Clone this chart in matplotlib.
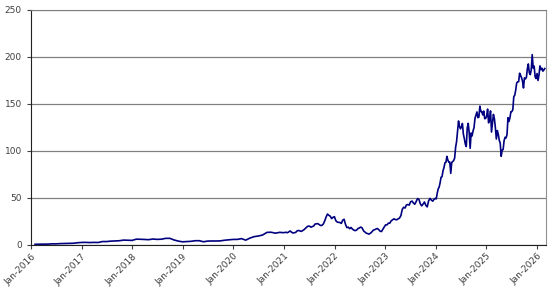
import numpy as np
import pandas as pd
import matplotlib
matplotlib.use('Agg')
import matplotlib.pyplot as plt
import matplotlib.dates as mdates

# ── data ──────────────────────────────────────────────────
# 2016-2020: month ends
monthly_dates = pd.date_range('2016-01-01', '2020-12-31', freq='ME')
monthly_vals = [
    0.73, 0.78, 0.89, 0.89, 1.17, 1.17, 1.43, 1.53, 1.71, 1.78, 2.30, 2.67,
    2.73, 2.53, 2.72, 2.60, 3.60, 3.61, 4.06, 4.23, 4.47, 5.17, 5.00, 4.84,
    6.14, 6.05, 5.79, 5.62, 6.30, 5.92, 6.12, 7.02, 7.03, 5.27, 4.09, 3.34,
    3.59, 3.85, 4.49, 4.52, 3.39, 4.11, 4.22, 4.19, 4.35, 5.03, 5.43, 5.88,
    5.91, 6.73, 5.10, 7.30, 8.87, 9.49, 10.61, 13.37, 13.52, 12.53, 13.39, 13.05,
]

# 2021-2023: roughly every 10 days
mid_dates = pd.date_range('2021-01-05', '2023-12-31', freq='10D')
mid_vals = [
    13.2, 13.5, 13.0, 13.8, 14.9, 13.7, 12.7, 13.0, 13.3, 14.9, 15.4, 15.0,
    14.4, 15.2, 16.2, 17.5, 19.0, 20.0, 20.0, 18.9, 19.5, 20.1, 22.2, 22.4,
    22.7, 21.7, 20.7, 20.8, 22.3, 25.6, 29.7, 32.9, 31.5, 30.6, 28.0, 29.4,
    30.1, 25.9, 24.4, 24.0, 23.9, 22.9, 26.4, 27.3, 21.9, 18.5, 18.9, 17.3,
    18.6, 16.9, 15.8, 15.2, 15.8, 17.4, 18.1, 19.0, 18.1, 15.1, 13.8, 12.5,
    12.1, 11.5, 12.5, 13.8, 15.6, 16.3, 16.9, 17.5, 16.3, 14.6,
    14.3, 16.8, 19.2, 21.4, 21.4, 23.2, 23.2, 25.7, 26.7, 27.8, 27.0, 26.8,
    27.7, 28.6, 31.2, 37.9, 40.1, 39.3, 42.6, 43.0, 42.4, 45.9, 46.7, 44.7,
    43.3, 46.1, 49.3, 48.5, 43.9, 41.6, 43.5, 45.7, 42.1, 40.5, 46.9, 49.5,
    47.7, 46.6, 48.8, 49.5,
]

# 2024-2026: weekly
weekly_dates = pd.date_range('2024-01-05', '2026-02-27', freq='W-FRI')
weekly_vals = [
    49.0, 54.7, 59.5, 61.5, 66.1, 72.1, 72.6, 78.9, 82.2, 87.5, 87.8, 94.3,
    90.3, 88.0, 88.1, 76.2, 87.8, 88.7, 89.8, 92.4, 103.9, 110.0, 120.9, 131.9,
    126.1, 123.5, 125.8, 129.2, 117.9, 113.1, 107.3, 104.7, 124.6, 129.4, 119.4,
    102.8, 119.1, 116.0, 121.4, 124.9, 134.8, 138.0, 141.5, 135.4, 136.0, 147.6,
    141.9, 141.9, 138.3, 142.4, 134.3, 134.7, 137.0, 144.5, 129.9, 133.6, 142.6,
    120.1, 129.8, 138.9, 134.4, 124.9, 112.7, 121.7, 117.7, 111.4, 108.4, 94.3,
    101.0, 101.5, 111.0, 114.5, 113.8, 117.4, 135.4, 131.3, 135.1, 141.7, 141.9,
    143.9, 157.8, 159.3, 164.9, 172.4, 173.5, 173.7, 182.7, 180.5, 177.9, 174.2,
    167.0, 177.8, 176.7, 178.2, 187.6, 192.6, 183.2, 181.2, 186.3, 202.5, 188.2,
    190.2, 178.9, 177.0, 182.4, 175.0, 181.0, 190.5, 186.5, 188.0, 184.9, 186.2,
    187.7, 191.0, 185.4, 182.8, 187.9, 180.0,
]

n = min(len(weekly_dates), len(weekly_vals))
dates = list(monthly_dates) + list(mid_dates[:len(mid_vals)]) + list(weekly_dates[:n])
prices = monthly_vals + mid_vals[:len(mid_dates)] + weekly_vals[:n]
series = pd.Series(prices, index=pd.DatetimeIndex(dates[:len(prices)]))

y_ticks = [0, 50, 100, 150, 200, 250]
x_ticks = pd.date_range('2016-01-01', '2026-01-01', freq='YS')

# ── plot ──────────────────────────────────────────────────
fig = plt.figure(figsize=(5.52, 2.93), dpi=100)
ax = fig.add_axes([0.056, 0.164, 0.933, 0.802])

ax.plot(series.index, series.values, color='#000080', linewidth=1.2)

ax.set_ylim(0, 250)
ax.set_yticks(y_ticks)
ax.set_xlim(pd.Timestamp('2016-01-01'), pd.Timestamp('2026-03-07'))
ax.set_xticks(x_ticks)
ax.xaxis.set_major_formatter(mdates.DateFormatter('%b-%Y'))

ax.grid(axis='y', color='#808080', linewidth=0.9)
ax.set_axisbelow(True)
for lab in ax.get_xticklabels():
    lab.set_rotation(45)
    lab.set_ha('right')
    lab.set_rotation_mode('anchor')
ax.tick_params(axis='both', labelsize=6.5, colors='#404040', length=3, width=0.8)
ax.tick_params(axis='x', pad=2)

ax.spines['left'].set_color('#202020')
ax.spines['bottom'].set_color('#202020')
ax.spines['right'].set_color('#909090')
ax.spines['top'].set_color('#808080')

plt.savefig('out.png', dpi=100)
plt.close()
